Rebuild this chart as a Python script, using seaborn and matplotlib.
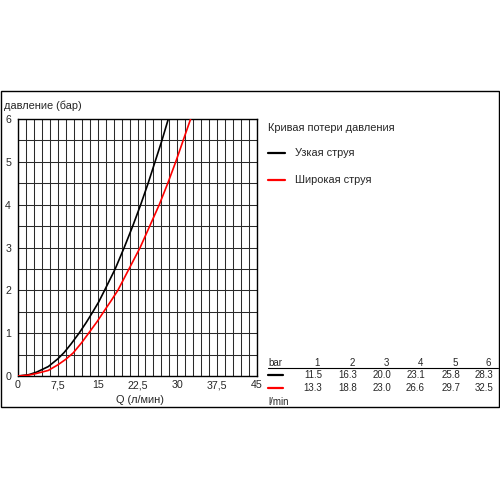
import numpy as np
import pandas as pd
import matplotlib
matplotlib.use("Agg")
import matplotlib.pyplot as plt
from matplotlib.patches import Rectangle
from matplotlib.lines import Line2D
import seaborn as sns

# =========================
# DATA
# =========================

# flow (l/min), with the table points included
q_narrow = [0, 2, 3.5, 5.7, 7.5, 8.7, 10.0, 11.5, 12.8, 14.0, 15.2, 16.3,
            18.3, 20.0, 21.6, 23.1, 24.5, 25.8, 27.1, 28.3]
p_narrow = [0, 0.03, 0.09, 0.22, 0.4, 0.55, 0.75, 1, 1.24, 1.48, 1.73, 2,
            2.5, 3, 3.5, 4, 4.5, 5, 5.5, 6]

q_wide = [0, 2, 3.5, 5.7, 7.5, 9.0, 10.4, 12.0, 13.3, 14.9, 16.4, 17.6,
          18.8, 20.9, 23.0, 24.8, 26.6, 28.2, 29.7, 31.1, 32.5]
p_wide = [0, 0.02, 0.06, 0.13, 0.26, 0.39, 0.54, 0.78, 1, 1.27, 1.55, 1.77,
          2, 2.5, 3, 3.5, 4, 4.5, 5, 5.5, 6]

table_bar = ["1", "2", "3", "4", "5", "6"]
table_narrow = ["11.5", "16.3", "20.0", "23.1", "25.8", "28.3"]
table_wide = ["13.3", "18.8", "23.0", "26.6", "29.7", "32.5"]

x_ticks = [0, 7.5, 15, 22.5, 30, 37.5, 45]
x_tick_labels = ["0", "7,5", "15", "22,5", "30", "37,5", "45"]
y_ticks = [0, 1, 2, 3, 4, 5, 6]

df = pd.concat([
    pd.DataFrame({"Q": q_narrow, "p": p_narrow, "jet": "Узкая струя"}),
    pd.DataFrame({"Q": q_wide, "p": p_wide, "jet": "Широкая струя"}),
])

# =========================
# STYLE
# =========================

sns.set_style("white")
plt.rcParams["font.family"] = ["Liberation Sans", "DejaVu Sans"]

fig = plt.figure(figsize=(5, 5), dpi=100)
W, H = 500, 500


def fx(px):
    return px / W


def fy(py):
    return 1 - py / H


# outer frame
fig.patches.append(Rectangle((fx(0.5), fy(407)), fx(498.5), (407 - 91) / H,
                             transform=fig.transFigure, fill=False,
                             edgecolor="black", linewidth=1.0))

ax = fig.add_axes([fx(18), fy(376), fx(257 - 18), (376 - 119) / H])

# =========================
# CURVES
# =========================

sns.lineplot(data=df, x="Q", y="p", hue="jet",
             palette={"Узкая струя": "black", "Широкая струя": "#ff0000"},
             linewidth=1.2, sort=False, legend=False, ax=ax, zorder=3)

ax.set_xlim(0, 45)
ax.set_ylim(0, 6)
ax.set_xticks(np.arange(0, 45.01, 1.5), minor=True)
ax.set_yticks(np.arange(0, 6.01, 0.5), minor=True)
ax.set_xticks(x_ticks)
ax.set_xticklabels(x_tick_labels)
ax.set_yticks(y_ticks)
ax.grid(True, which="both", color="#2a2a2a", linewidth=0.75)
ax.tick_params(which="both", length=0, labelsize=7.7, pad=3)
ax.tick_params(axis="y", pad=5)
for s in ax.spines.values():
    s.set_color("black")
    s.set_linewidth(1.0)
ax.set_xlabel("")
ax.set_ylabel("")

fig.text(fx(4), fy(106), "давление (бар)", fontsize=7.9, va="center", ha="left")
fig.text(fx(140), fy(400), "Q (л/мин)", fontsize=7.9, va="center", ha="center")

# =========================
# LEGEND PANEL
# =========================

fig.text(fx(268), fy(128), "Кривая потери давления", fontsize=7.9, va="center")
fig.add_artist(Line2D([fx(268), fx(285)], [fy(153), fy(153)], color="black",
                      linewidth=1.6, transform=fig.transFigure))
fig.text(fx(295), fy(153), "Узкая струя", fontsize=7.9, va="center")
fig.add_artist(Line2D([fx(268), fx(285)], [fy(180), fy(180)], color="#ff0000",
                      linewidth=1.6, transform=fig.transFigure))
fig.text(fx(295), fy(180), "Широкая струя", fontsize=7.9, va="center")

# =========================
# TABLE
# =========================

col_x = [322, 357, 391, 425, 460, 493]
fig.text(fx(268), fy(363), "bar", fontsize=7, va="center")
fig.add_artist(Line2D([fx(268), fx(498)], [fy(368), fy(368)], color="black",
                      linewidth=0.8, transform=fig.transFigure))
fig.add_artist(Line2D([fx(268), fx(283)], [fy(375), fy(375)], color="black",
                      linewidth=1.6, transform=fig.transFigure))
fig.add_artist(Line2D([fx(268), fx(283)], [fy(388), fy(388)], color="#ff0000",
                      linewidth=1.6, transform=fig.transFigure))
for cx, b, n, w in zip(col_x, table_bar, table_narrow, table_wide):
    fig.text(fx(cx - 2), fy(363), b, fontsize=7, va="center", ha="right")
    fig.text(fx(cx), fy(375), n, fontsize=7, va="center", ha="right")
    fig.text(fx(cx), fy(388), w, fontsize=7, va="center", ha="right")
fig.text(fx(268), fy(402), "l/min", fontsize=7, va="center")

fig.savefig("out.png", dpi=100)
